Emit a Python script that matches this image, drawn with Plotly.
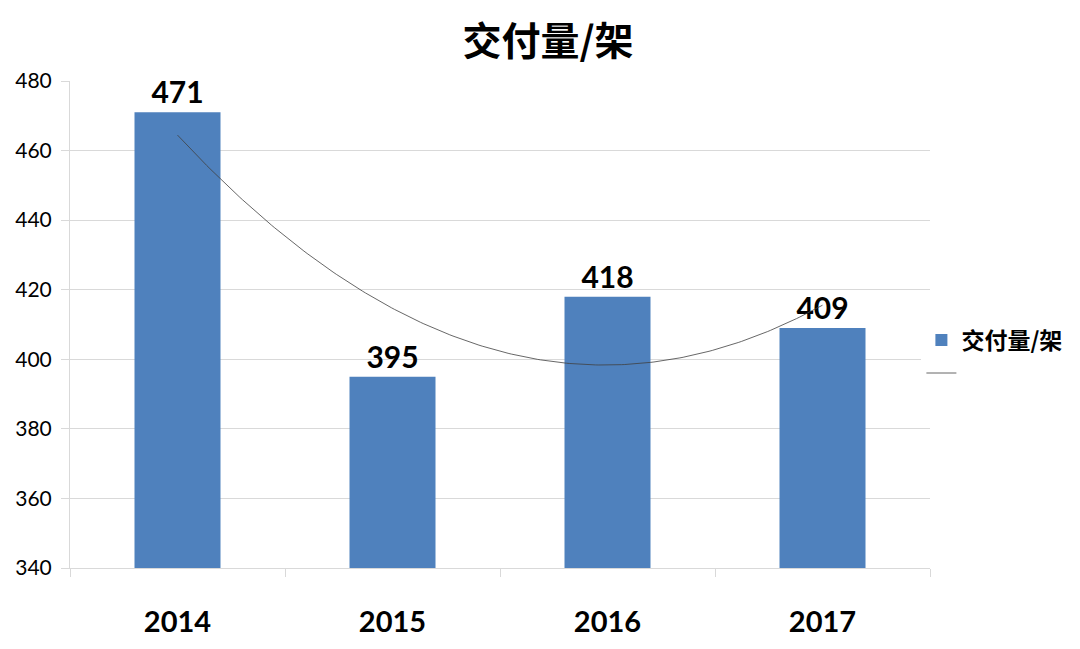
import numpy as np
import plotly.graph_objects as go

years = ["2014", "2015", "2016", "2017"]
deliveries = [471, 395, 418, 409]
series_name = "交付量/架"
y_ticks = [340, 360, 380, 400, 420, 440, 460, 480]

xs = np.arange(len(years))
coef = np.polyfit(xs, deliveries, 2)
xf = np.linspace(0, len(years) - 1, 200)
yf = np.polyval(coef, xf)

fig = go.Figure()
fig.add_trace(go.Bar(
    x=xs, y=deliveries, width=0.4, name=series_name,
    marker=dict(color="#4F81BD", line=dict(width=0)),
    text=[str(v) for v in deliveries], textposition="outside",
    textfont=dict(family="Lato, 'Noto Sans'", size=30, color="black", weight="bold"),
    cliponaxis=False,
))
fig.add_trace(go.Scatter(
    x=xf, y=yf, mode="lines", name="",
    line=dict(color="#404040", width=0.8),
))

grid = "#D9D9D9"
fig.update_layout(
    width=1080, height=649,
    paper_bgcolor="white", plot_bgcolor="white",
    margin=dict(l=62, r=158, t=73, b=89, autoexpand=False),
    title=dict(text="<b>交付量/架</b>", x=0.5, xanchor="center", y=0.948, yanchor="middle",
               font=dict(family="Noto Sans CJK SC", size=39, color="black")),
    showlegend=True,
    legend=dict(x=0.99, xanchor="left", y=0.512, yanchor="top",
                font=dict(family="Noto Sans CJK SC", size=23, color="black", weight="bold"),
                tracegroupgap=6, itemwidth=30),
    bargap=0.6,
)
fig.update_xaxes(
    range=[-0.5, len(years) - 0.5], tickvals=list(xs), ticktext=years,
    ticks="", showgrid=False, showline=True, linecolor=grid, linewidth=1,
    tickfont=dict(family="Lato, 'Noto Sans'", size=29, color="black", weight="bold"),
    ticklabelstandoff=28, zeroline=False,
    minor=dict(tickvals=[i - 0.5 for i in range(len(years) + 1)], ticks="outside",
               ticklen=8, tickcolor=grid, showgrid=False),
)
fig.update_yaxes(
    range=[340, 480], tickvals=y_ticks, showgrid=True, gridcolor=grid, gridwidth=1,
    showline=True, linecolor=grid, linewidth=1, ticks="outside", ticklen=8, tickcolor=grid,
    tickfont=dict(family="Lato, 'Noto Sans'", size=21, color="black"),
    ticklabelstandoff=5, zeroline=False,
)

fig.write_html("out.html")
